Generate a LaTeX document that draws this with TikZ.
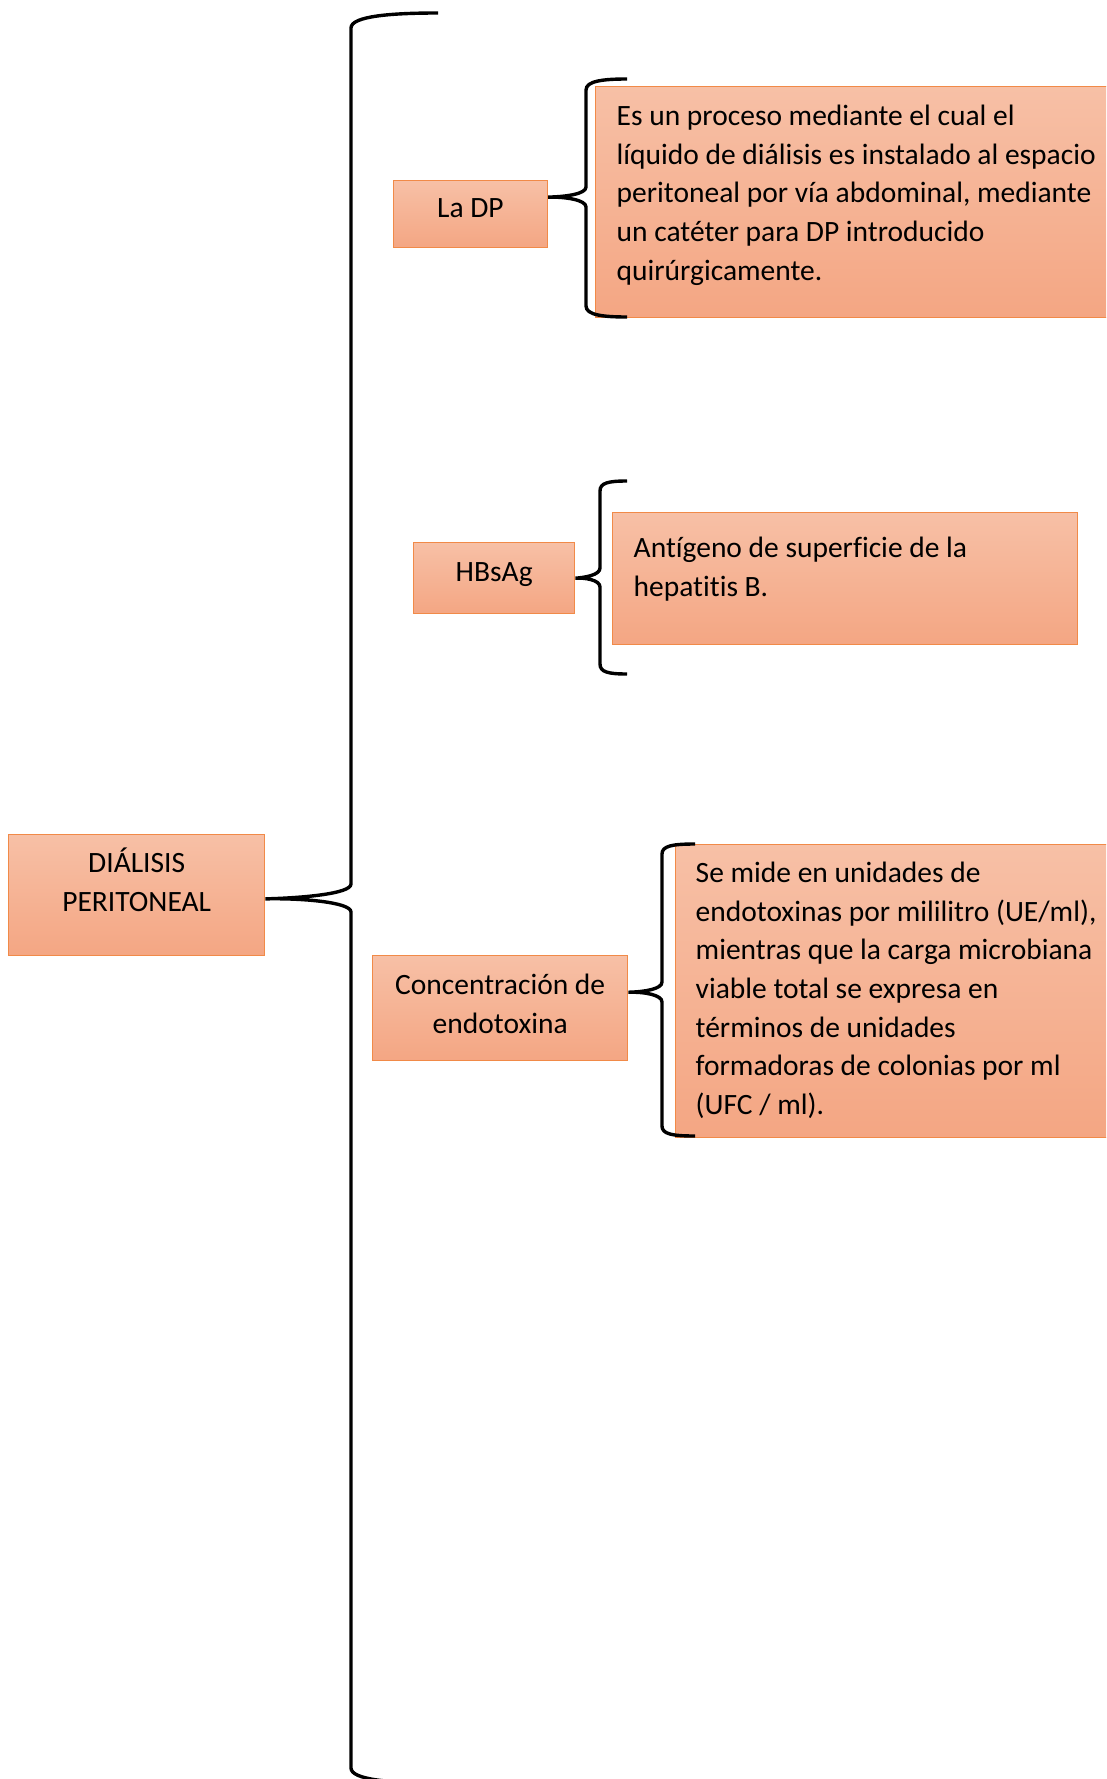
\documentclass[tikz,border=0pt]{standalone}
\usepackage{fontspec}
\setmainfont{Carlito}[Ligatures=NoCommon]
\usetikzlibrary{calc}
\definecolor{boxtop}{RGB}{247,192,166}
\definecolor{boxbot}{RGB}{244,166,131}
\definecolor{boxline}{RGB}{241,138,72}
\newcommand{\boxtxt}[4]{\parbox[c][#1][t]{#2}{#3\strut #4}}
\begin{document}
\begin{tikzpicture}[x=1pt,y=-1pt,
  cbox/.style={draw=boxline, line width=1.4pt, top color=boxtop, bottom color=boxbot,
    anchor=north west, rectangle, font=\fontsize{29.5}{38.6}\selectfont, text=black},
  brace/.style={line width=3.4pt, draw=black}]
\useasboundingbox (0,0) rectangle (1106,1779);
\clip (0,0) rectangle (1106,1779);

% boxes
\node[cbox, inner xsep=5pt, inner ysep=11pt] (main) at (8,834)
  {\boxtxt{99pt}{246pt}{\centering}{DIÁLISIS\\PERITONEAL}};
\node[cbox, inner xsep=5pt, inner ysep=10pt] (lad) at (392.7,180)
  {\boxtxt{47pt}{144pt}{\centering}{La DP}};
\node[cbox, inner xsep=5pt, inner ysep=12pt] (hbs) at (413,542)
  {\boxtxt{47pt}{151pt}{\centering}{HBsAg}};
\node[cbox, inner xsep=5pt, inner ysep=12pt] (conc) at (372,955)
  {\boxtxt{81pt}{245pt}{\centering}{Concentración de\\endotoxina}};
\node[cbox, inner xsep=21pt, inner ysep=12pt] (t1) at (595,86)
  {\boxtxt{207pt}{563pt}{\raggedright}{Es un proceso mediante el cual el\\líquido de diálisis es instalado al espacio\\peritoneal por vía abdominal, mediante\\un catéter para DP introducido\\quirúrgicamente.}};
\node[cbox, inner xsep=21pt, inner ysep=18pt] (t2) at (612,512)
  {\boxtxt{96pt}{423pt}{\raggedright}{Antígeno de superficie de la\\hepatitis B.}};
\node[cbox, inner xsep=20pt, inner ysep=11pt] (t3) at (675,844)
  {\boxtxt{271pt}{485pt}{\raggedright}{Se mide en unidades de\\endotoxinas por mililitro (UE/ml),\\mientras que la carga microbiana\\viable total se expresa en\\términos de unidades\\formadoras de colonias por ml\\(UFC / ml).}};

% brace end points and tips
\coordinate (m0) at ($(main.north east)!0.53!(main.south east)$);
\coordinate (m1) at ($(lad.north east)!0.25!(lad.south east)$);
\coordinate (m3) at ($(conc.north east)!0.35!(conc.south east)$);
\coordinate (b0t) at (438,13);
\coordinate (b0b) at (438,1783);
\coordinate (b1t) at (627,79);
\coordinate (b1b) at (627,317);
\coordinate (b2t) at (627,481);
\coordinate (b2b) at (627,674);
\coordinate (b3t) at (695,844);
\coordinate (b3b) at (695,1136);

% big brace
\draw[brace] (b0t) .. controls (392,13) and (351,16) .. (351,28) -- (351,884)
  .. controls (351,894) and (300,898) .. (m0)
  .. controls (300,898) and (351,902) .. (351,912) -- (351,1768)
  .. controls (351,1780) and (392,1783) .. (b0b);
% brace 1
\draw[brace] (b1t) .. controls (603,79) and (586,81) .. (586,90) -- (586,187)
  .. controls (586,194) and (566,196.75) .. (m1)
  .. controls (566,196.75) and (586,200) .. (586,207) -- (586,306)
  .. controls (586,315) and (603,317) .. (b1b);
% brace 2
\draw[brace] (b2t) .. controls (608,481) and (600,483) .. (600,491) -- (600,568)
  .. controls (600,575) and (585,577.5) .. (hbs.east)
  .. controls (585,577.5) and (600,580) .. (600,587) -- (600,664)
  .. controls (600,672) and (608,674) .. (b2b);
% brace 3
\draw[brace] (b3t) .. controls (672,844) and (662,846) .. (662,854) -- (662,982)
  .. controls (662,989) and (645,991.75) .. (m3)
  .. controls (645,991.75) and (662,995) .. (662,1002) -- (662,1126)
  .. controls (662,1134) and (672,1136) .. (b3b);
\end{tikzpicture}
\end{document}
